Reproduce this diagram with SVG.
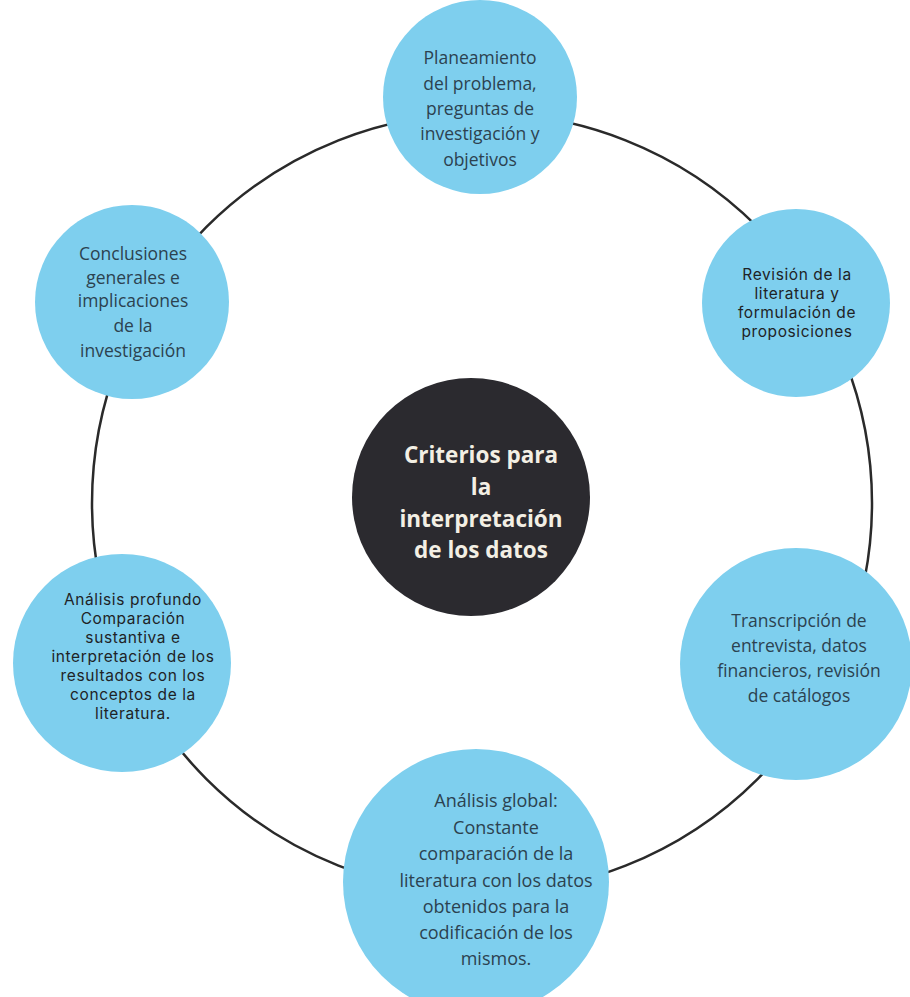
<svg xmlns="http://www.w3.org/2000/svg" width="910" height="997" viewBox="0 0 910 997">
<style>
.node{fill:#7ecfee}
.ring{fill:none;stroke:#2a2a2a;stroke-width:2.5}
.os{font-family:"Open Sans","Noto Sans",sans-serif;font-size:17.5px;fill:#2c4250;text-anchor:middle}
.pp{font-family:Inter,"Noto Sans",sans-serif;font-size:15.5px;letter-spacing:0.6px;fill:#1e2326;text-anchor:middle}
.ct{font-family:"Open Sans","Noto Sans",sans-serif;font-size:22.5px;font-weight:bold;fill:#f3efe4;text-anchor:middle}
</style>
<rect width="910" height="997" fill="#ffffff"/>
<g id="connectors">
<circle class="ring" cx="482" cy="503" r="390"/>
</g>
<g id="center">
<circle cx="471" cy="497" r="119" fill="#2b2a2f"/>
<text class="ct"><tspan x="481" y="463">Criterios para</tspan><tspan x="481" y="495">la</tspan><tspan x="481" y="527">interpretación</tspan><tspan x="481" y="558">de los datos</tspan></text>
</g>
<g id="n1">
<circle class="node" cx="480" cy="97" r="97"/>
<text class="os"><tspan x="480" y="64">Planeamiento</tspan><tspan x="480" y="90">del problema,</tspan><tspan x="480" y="115">preguntas de</tspan><tspan x="480" y="140">investigación y</tspan><tspan x="480" y="166">objetivos</tspan></text>
</g>
<g id="n2">
<circle class="node" cx="796" cy="303" r="94"/>
<text class="pp"><tspan x="797" y="280">Revisión de la</tspan><tspan x="797" y="299">literatura y</tspan><tspan x="797" y="318">formulación de</tspan><tspan x="797" y="337">proposiciones</tspan></text>
</g>
<g id="n3">
<circle class="node" cx="796" cy="664" r="116"/>
<text class="os"><tspan x="799" y="627">Transcripción de</tspan><tspan x="799" y="652">entrevista, datos</tspan><tspan x="799" y="677">financieros, revisión</tspan><tspan x="799" y="702">de catálogos</tspan></text>
</g>
<g id="n4">
<circle class="node" cx="476" cy="882" r="133"/>
<text class="os" style="font-size:18px"><tspan x="496" y="807">Análisis global:</tspan><tspan x="496" y="834">Constante</tspan><tspan x="496" y="860">comparación de la</tspan><tspan x="496" y="887">literatura con los datos</tspan><tspan x="496" y="913">obtenidos para la</tspan><tspan x="496" y="939">codificación de los</tspan><tspan x="496" y="965">mismos.</tspan></text>
</g>
<g id="n5">
<circle class="node" cx="122" cy="663" r="109"/>
<text class="pp"><tspan x="133" y="605">Análisis profundo</tspan><tspan x="133" y="624">Comparación</tspan><tspan x="133" y="643">sustantiva e</tspan><tspan x="133" y="662">interpretación de los</tspan><tspan x="133" y="681">resultados con los</tspan><tspan x="133" y="700">conceptos de la</tspan><tspan x="133" y="719">literatura.</tspan></text>
</g>
<g id="n6">
<circle class="node" cx="132" cy="302" r="97"/>
<text class="os"><tspan x="133" y="260">Conclusiones</tspan><tspan x="133" y="284">generales e</tspan><tspan x="133" y="307">implicaciones</tspan><tspan x="133" y="332">de la</tspan><tspan x="133" y="357">investigación</tspan></text>
</g>
</svg>
